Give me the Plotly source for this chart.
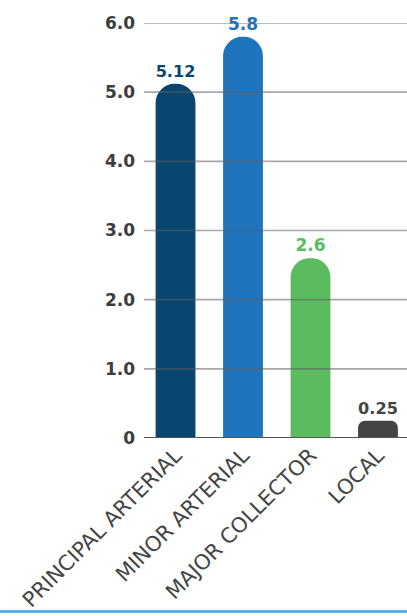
import plotly.graph_objects as go

# Road functional classes and their values
categories = ["PRINCIPAL ARTERIAL", "MINOR ARTERIAL", "MAJOR COLLECTOR", "LOCAL"]
values = [5.12, 5.8, 2.6, 0.25]
value_labels = ["5.12", "5.8", "2.6", "0.25"]
bar_colors = ["#08466f", "#1f74bb", "#5cbb5f", "#444444"]
corner_radii = ["50%", "50%", "50%", 7]

y_ticks = [0, 1, 2, 3, 4, 5, 6]
y_tick_labels = ["0", "1.0", "2.0", "3.0", "4.0", "5.0", "6.0"]

FONT = "DejaVu Sans"

fig = go.Figure()
for cat, val, lab, col, rad in zip(categories, values, value_labels, bar_colors, corner_radii):
    fig.add_trace(go.Bar(
        x=[cat], y=[val],
        marker=dict(color=col, cornerradius=rad, line=dict(width=0)),
        width=0.59,
        text=[lab], textposition="outside", cliponaxis=False,
        textfont=dict(family=FONT, size=17, color=col, weight="bold"),
        hoverinfo="skip", showlegend=False,
    ))

# Grid lines drawn over the bars
for t in y_ticks[1:]:
    fig.add_shape(type="line", xref="x domain", yref="y", x0=0, x1=1, y0=t, y1=t,
                  line=dict(color="rgba(95,95,95,0.55)", width=1.6), layer="above")

# Baseline
fig.add_shape(type="line", xref="x domain", yref="y", x0=0, x1=1, y0=0, y1=0,
              line=dict(color="#555555", width=2), layer="above")

# Accent rule along the bottom
fig.add_shape(type="line", xref="paper", yref="paper", x0=-1, x1=2, y0=-0.418, y1=-0.418,
              line=dict(color="#3ea6ea", width=2.5), layer="above")

fig.update_layout(
    width=407, height=616,
    margin=dict(l=144, r=0, t=23, b=178),
    paper_bgcolor="white", plot_bgcolor="white",
    barmode="overlay",
    xaxis=dict(
        range=[-0.467, 3.43], showgrid=False, showline=False, zeroline=False,
        tickangle=-45, ticks="",
        tickfont=dict(family=FONT, size=21, color="#444444"),
    ),
    yaxis=dict(
        range=[0, 6], tickvals=y_ticks, ticktext=y_tick_labels,
        showgrid=False, zeroline=False, showline=False, ticks="",
        ticklabelstandoff=8,
        tickfont=dict(family=FONT, size=17, color="#3d3d3d", weight="bold"),
    ),
)

fig.write_html("out.html")
